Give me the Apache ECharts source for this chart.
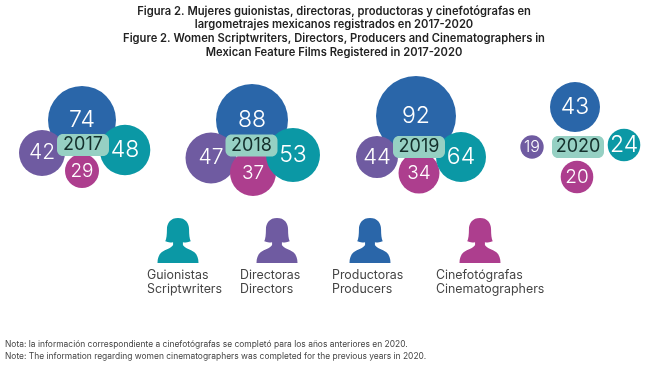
<!DOCTYPE html>
<html>
<head>
<meta charset="utf-8">
<style>html,body{margin:0;padding:0;background:#fff}#c{width:646px;height:365px}</style>
<script src="https://cdn.jsdelivr.net/npm/echarts@6/dist/echarts.min.js"></script>
</head>
<body>
<div id="c"></div>
<script>
// ---- data ----
const years = ['2017', '2018', '2019', '2020'];
const producers = [74, 88, 92, 43];
const directors = [42, 47, 44, 19];
const scriptwriters = [48, 53, 64, 24];
const cinematographers = [29, 37, 34, 20];
const roleNames = [
  ['Guionistas', 'Scriptwriters'],
  ['Directoras', 'Directors'],
  ['Productoras', 'Producers'],
  ['Cinefotógrafas', 'Cinematographers']
];
const titleLines = [
  'Figura 2. Mujeres guionistas, directoras, productoras y cinefotógrafas en',
  'largometrajes mexicanos registrados en 2017-2020',
  'Figure 2. Women Scriptwriters, Directors, Producers and Cinematographers in',
  'Mexican Feature Films Registered in 2017-2020'
];
const noteLines = [
  'Nota: la información correspondiente a cinefotógrafas se completó para los años anteriores en 2020.',
  'Note: The information regarding women cinematographers was completed for the previous years in 2020.'
];

// ---- layout, kept apart from the data ----
const FONT = 'Inter, "Open Sans", sans-serif';
const colors = { scriptwriters: '#0b98a5', directors: '#6f5ba1', producers: '#2a66a9', cinematographers: '#ad3e8e', pill: '#96d0c3' };
const layout = {
  pill:             { x: [83, 251.5, 419, 578], y: [145, 145.5, 147, 147] },
  producers:        { x: [82, 252, 416, 575],   y: [120, 120, 116, 107], r: [34, 36, 40, 25], font: [23, 23, 23, 23] },
  directors:        { x: [42, 211, 377, 532],   y: [153, 158, 157, 147], r: [23, 25.5, 21, 11.7], font: [21, 21, 22, 16] },
  cinematographers: { x: [82, 253, 419, 577],   y: [171, 173, 173, 177], r: [17, 23, 20.5, 16.3], font: [19, 19, 19, 19] },
  scriptwriters:    { x: [125, 293, 461, 624],  y: [150, 155, 157, 145], r: [25.3, 27, 25, 16.3], font: [23, 23, 23, 23] }
};
const person = 'path://M50 0C68 0 77 12 77 28C77 40 78 50 81 57C75 60 68 60 62 59L62 66C66 74 80 76 90 84C97 90 100 100 100 110L0 110C0 100 3 90 10 84C20 76 34 74 38 66L38 59C32 60 25 60 19 57C22 50 23 40 23 28C23 12 32 0 50 0Z';
const pillShape = 'path://M6 0L46 0C49.3 0 52 2.7 52 6L52 16C52 19.3 49.3 22 46 22L6 22C2.7 22 0 19.3 0 16L0 6C0 2.7 2.7 0 6 0Z';
const iconX = [178, 277, 370, 480];
const iconY = 240.5;
const iconColors = [colors.scriptwriters, colors.directors, colors.producers, colors.cinematographers];
const nameX = [147, 240, 332, 436];

function bubbles(name, values, key) {
  const l = layout[key];
  return {
    type: 'scatter', name, symbol: 'circle', animation: false, silent: true,
    itemStyle: { color: colors[key], opacity: 1 },
    label: { show: true, position: 'inside', color: '#fff', fontFamily: FONT, fontWeight: 300,
      formatter: p => p.value[2] },
    data: values.map((v, i) => ({ value: [l.x[i], l.y[i], v], symbolSize: l.r[i] * 2, label: { fontSize: l.font[i] } }))
  };
}
const series = [
  bubbles('Productoras', producers, 'producers'),
  bubbles('Directoras', directors, 'directors'),
  bubbles('Cinefotógrafas', cinematographers, 'cinematographers'),
  bubbles('Guionistas', scriptwriters, 'scriptwriters'),
  {
    type: 'scatter', name: 'Year', symbol: pillShape, symbolSize: [52, 22], animation: false, silent: true,
    itemStyle: { color: colors.pill, opacity: 1 },
    label: { show: true, position: 'inside', color: '#14302c', fontFamily: FONT, fontWeight: 400, fontSize: 18,
      formatter: p => p.value[2] },
    data: years.map((y, i) => ({ value: [layout.pill.x[i], layout.pill.y[i], y] }))
  },
  {
    type: 'scatter', name: 'Icons', symbol: person, symbolSize: [41, 45], animation: false, silent: true,
    data: iconX.map((x, i) => ({ value: [x, iconY], itemStyle: { color: iconColors[i], opacity: 1 } }))
  }
];

const text = (x, y, t, o) => ({ type: 'text', x, y, silent: true,
  style: Object.assign({ text: t, fontFamily: FONT, textVerticalAlign: 'middle', fill: '#333' }, o) });
const graphic = [];
titleLines.forEach((t, i) => graphic.push(text(334, [12, 25, 39, 53][i], t, { fontSize: 11.2, fontWeight: 600, textAlign: 'center', fill: '#222' })));
roleNames.forEach((n, i) => {
  graphic.push(text(nameX[i], 275, n[0], { fontSize: 12.4, fill: '#444' }));
  graphic.push(text(nameX[i], 289, n[1], { fontSize: 12.4, fill: '#444' }));
});
noteLines.forEach((t, i) => graphic.push(text(5, 344 + i * 12, t, { fontSize: 8.45, fill: '#444' })));

const chart = echarts.init(document.getElementById('c'), null, { renderer: 'canvas' });
chart.setOption({
  animation: false,
  backgroundColor: '#fff',
  grid: { left: 0, right: 0, top: 0, bottom: 0 },
  xAxis: { type: 'value', min: 0, max: 646, show: false },
  yAxis: { type: 'value', min: 0, max: 365, inverse: true, show: false },
  series,
  graphic
});
</script>
</body>
</html>
